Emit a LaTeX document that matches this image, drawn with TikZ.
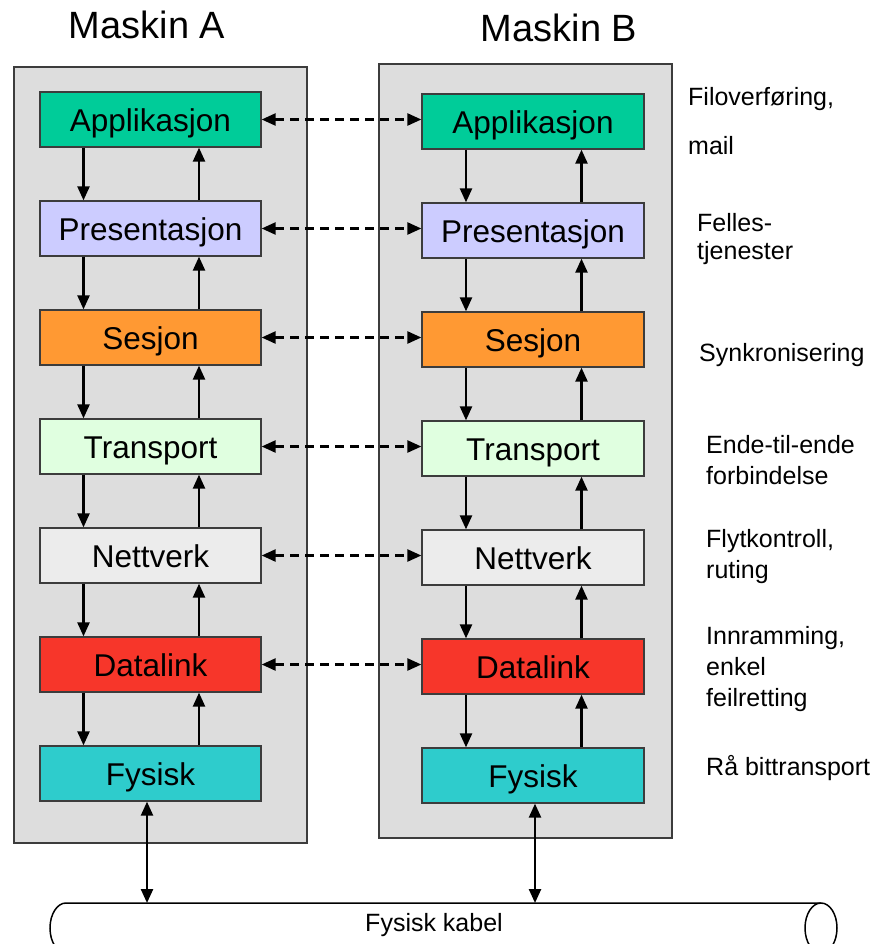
\documentclass[tikz,border=0pt]{standalone}
\usepackage{fontspec}
\setmainfont{Liberation Sans}
\usetikzlibrary{arrows.meta}

\definecolor{appcol}{RGB}{0,204,153}
\definecolor{prescol}{RGB}{204,204,255}
\definecolor{sescol}{RGB}{255,153,51}
\definecolor{transcol}{RGB}{224,255,224}
\definecolor{netcol}{RGB}{236,236,236}
\definecolor{linkcol}{RGB}{247,54,42}
\definecolor{physcol}{RGB}{46,204,204}
\definecolor{machinecol}{RGB}{221,221,221}
\definecolor{edgecol}{RGB}{60,60,60}

\begin{document}
\begin{tikzpicture}[x=1pt,y=-1pt,
  machine/.style={fill=machinecol, draw=edgecol, line width=1.3pt},
  layer/.style={draw=edgecol, line width=1.3pt, minimum height=55pt,
    inner sep=0pt, text height=24pt, text depth=0pt,
    font=\fontsize{31.5}{36}\selectfont},
  layerA/.style={layer, minimum width=221pt},
  layerB/.style={layer, minimum width=222pt},
  title/.style={font=\fontsize{38}{44}\selectfont, inner sep=0pt},
  note/.style={font=\fontsize{25}{31}\selectfont, align=left, inner sep=0pt, anchor=base west},
  tip/.tip={Triangle[length=14pt,width=12pt]},
  flow/.style={-tip, line width=2.4pt},
  peer/.style={tip-tip, line width=2.4pt, dash pattern=on 9pt off 6pt},
  wire/.style={tip-tip, line width=2.4pt},
  cable/.style={draw=black, line width=1.5pt, fill=white}
]
\useasboundingbox (0,0) rectangle (881,944);

% titles
\node[title] (tA) at (147,25) {Maskin A};
\node[title] (tB) at (559,28) {Maskin B};

% machine frames
\draw[machine] (14,67) rectangle (307,843);
\draw[machine] (379,64) rectangle (672,838);

% protocol stack of machine A
\node[layerA, fill=appcol]   (A1) at (150.5,119.5) {Applikasjon};
\node[layerA, fill=prescol]  (A2) at (150.5,228.5) {Presentasjon};
\node[layerA, fill=sescol]   (A3) at (150.5,337.5) {Sesjon};
\node[layerA, fill=transcol] (A4) at (150.5,446.5) {Transport};
\node[layerA, fill=netcol]   (A5) at (150.5,555.5) {Nettverk};
\node[layerA, fill=linkcol]  (A6) at (150.5,664.5) {Datalink};
\node[layerA, fill=physcol]  (A7) at (150.5,773.5) {Fysisk};

% protocol stack of machine B
\node[layerB, fill=appcol]   (B1) at (533,121.5) {Applikasjon};
\node[layerB, fill=prescol]  (B2) at (533,230.5) {Presentasjon};
\node[layerB, fill=sescol]   (B3) at (533,339.5) {Sesjon};
\node[layerB, fill=transcol] (B4) at (533,448.5) {Transport};
\node[layerB, fill=netcol]   (B5) at (533,557.5) {Nettverk};
\node[layerB, fill=linkcol]  (B6) at (533,666.5) {Datalink};
\node[layerB, fill=physcol]  (B7) at (533,775.5) {Fysisk};

% down and up flows inside each stack
\foreach \s in {A,B}{
  \foreach \i [evaluate=\i as \j using int(\i+1)] in {1,...,6}{
    \draw[flow] ([xshift=-67pt]\s\i.south) -- ([xshift=-67pt]\s\j.north);
    \draw[flow] ([xshift=48.5pt]\s\j.north) -- ([xshift=48.5pt]\s\i.south);
  }
}

% peer-to-peer (virtual) communication
\foreach \i in {1,...,6}{
  \draw[peer] (A\i.east) -- (A\i.east -| B\i.west);
}

% physical cable
\draw[cable] (821,903) -- (66,903)
  arc[start angle=90, end angle=270, x radius=16pt, y radius=25pt] -- (821,953);
\draw[cable] (821,928) ellipse[x radius=16pt, y radius=25pt];
\node[font=\fontsize{25}{30}\selectfont, inner sep=0pt] (kabel) at (434,925) {Fysisk kabel};

\coordinate (cA) at (147,903);
\coordinate (cB) at (535,903);
\draw[wire] (A7.south -| cA) -- (cA);
\draw[wire] (B7.south -| cB) -- (cB);

% layer functions (anchored at the baseline of the last line)
\node[note] (f1) at (688,155) {Filoverføring,\\[18pt]mail};
\node[note, font=\fontsize{25}{28}\selectfont] (f2) at (697,259) {Felles-\\tjenester};
\node[note] (f3) at (699,361) {Synkronisering};
\node[note] (f4) at (706,484) {Ende-til-ende\\forbindelse};
\node[note] (f5) at (706,578) {Flytkontroll,\\ruting};
\node[note] (f6) at (706,706) {Innramming,\\enkel\\feilretting};
\node[note] (f7) at (706,775) {Rå bittransport};
\end{tikzpicture}
\end{document}
